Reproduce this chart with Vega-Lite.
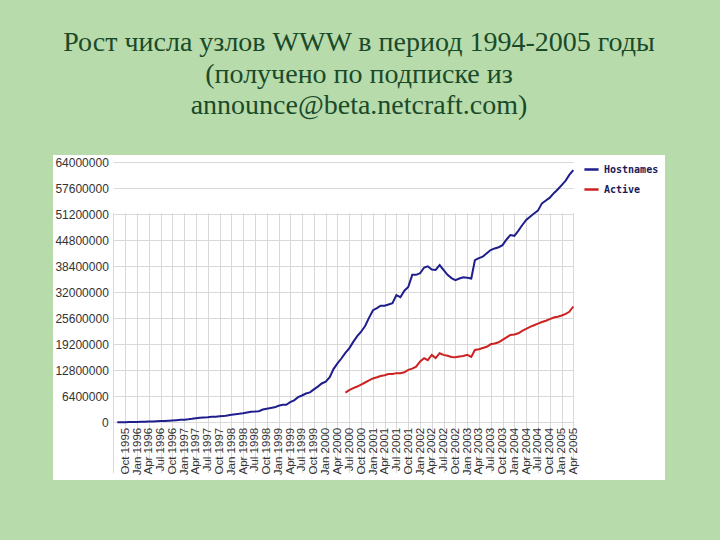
{
  "$schema": "https://vega.github.io/schema/vega-lite/v6.json",
  "width": 612,
  "height": 325,
  "autosize": {"type": "none"},
  "padding": {"left": 53, "top": 155, "right": 55, "bottom": 60},
  "background": "#b7dbab",
  "config": {
    "view": {"fill": "white", "stroke": null}
  },
  "title": {
    "text": ["Рост числа узлов WWW в период 1994-2005 годы", "(получено по подписке из", "announce@beta.netcraft.com)"],
    "font": "Liberation Serif",
    "fontSize": 28,
    "fontWeight": "normal",
    "lineHeight": 31.5,
    "color": "#1a4a29",
    "anchor": "middle",
    "frame": "group",
    "offset": 35
  },
  "data": {
    "values": [
      {"date": "1995-08-01", "series": "Hostnames", "value": 19000},
      {"date": "1995-09-01", "series": "Hostnames", "value": 22000},
      {"date": "1995-10-01", "series": "Hostnames", "value": 31000},
      {"date": "1995-11-01", "series": "Hostnames", "value": 49000},
      {"date": "1995-12-01", "series": "Hostnames", "value": 75000},
      {"date": "1996-01-01", "series": "Hostnames", "value": 100000},
      {"date": "1996-02-01", "series": "Hostnames", "value": 127000},
      {"date": "1996-03-01", "series": "Hostnames", "value": 160000},
      {"date": "1996-04-01", "series": "Hostnames", "value": 190000},
      {"date": "1996-05-01", "series": "Hostnames", "value": 215000},
      {"date": "1996-06-01", "series": "Hostnames", "value": 252000},
      {"date": "1996-07-01", "series": "Hostnames", "value": 299000},
      {"date": "1996-08-01", "series": "Hostnames", "value": 342000},
      {"date": "1996-09-01", "series": "Hostnames", "value": 397000},
      {"date": "1996-10-01", "series": "Hostnames", "value": 462000},
      {"date": "1996-11-01", "series": "Hostnames", "value": 525000},
      {"date": "1996-12-01", "series": "Hostnames", "value": 603000},
      {"date": "1997-01-01", "series": "Hostnames", "value": 650000},
      {"date": "1997-02-01", "series": "Hostnames", "value": 739000},
      {"date": "1997-03-01", "series": "Hostnames", "value": 850000},
      {"date": "1997-04-01", "series": "Hostnames", "value": 1002000},
      {"date": "1997-05-01", "series": "Hostnames", "value": 1114000},
      {"date": "1997-06-01", "series": "Hostnames", "value": 1203000},
      {"date": "1997-07-01", "series": "Hostnames", "value": 1269000},
      {"date": "1997-08-01", "series": "Hostnames", "value": 1389000},
      {"date": "1997-09-01", "series": "Hostnames", "value": 1364000},
      {"date": "1997-10-01", "series": "Hostnames", "value": 1467000},
      {"date": "1997-11-01", "series": "Hostnames", "value": 1523000},
      {"date": "1997-12-01", "series": "Hostnames", "value": 1681000},
      {"date": "1998-01-01", "series": "Hostnames", "value": 1834000},
      {"date": "1998-02-01", "series": "Hostnames", "value": 2000000},
      {"date": "1998-03-01", "series": "Hostnames", "value": 2084000},
      {"date": "1998-04-01", "series": "Hostnames", "value": 2215000},
      {"date": "1998-05-01", "series": "Hostnames", "value": 2410000},
      {"date": "1998-06-01", "series": "Hostnames", "value": 2594000},
      {"date": "1998-07-01", "series": "Hostnames", "value": 2636000},
      {"date": "1998-08-01", "series": "Hostnames", "value": 2743000},
      {"date": "1998-09-01", "series": "Hostnames", "value": 3156000},
      {"date": "1998-10-01", "series": "Hostnames", "value": 3358000},
      {"date": "1998-11-01", "series": "Hostnames", "value": 3518000},
      {"date": "1998-12-01", "series": "Hostnames", "value": 3689000},
      {"date": "1999-01-01", "series": "Hostnames", "value": 4062000},
      {"date": "1999-02-01", "series": "Hostnames", "value": 4302000},
      {"date": "1999-03-01", "series": "Hostnames", "value": 4301000},
      {"date": "1999-04-01", "series": "Hostnames", "value": 4955000},
      {"date": "1999-05-01", "series": "Hostnames", "value": 5398000},
      {"date": "1999-06-01", "series": "Hostnames", "value": 6177000},
      {"date": "1999-07-01", "series": "Hostnames", "value": 6598000},
      {"date": "1999-08-01", "series": "Hostnames", "value": 7078000},
      {"date": "1999-09-01", "series": "Hostnames", "value": 7370000},
      {"date": "1999-10-01", "series": "Hostnames", "value": 8101000},
      {"date": "1999-11-01", "series": "Hostnames", "value": 8781000},
      {"date": "1999-12-01", "series": "Hostnames", "value": 9560000},
      {"date": "2000-01-01", "series": "Hostnames", "value": 10000000},
      {"date": "2000-02-01", "series": "Hostnames", "value": 11100000},
      {"date": "2000-03-01", "series": "Hostnames", "value": 13100000},
      {"date": "2000-04-01", "series": "Hostnames", "value": 14500000},
      {"date": "2000-05-01", "series": "Hostnames", "value": 15700000},
      {"date": "2000-06-01", "series": "Hostnames", "value": 17100000},
      {"date": "2000-07-01", "series": "Hostnames", "value": 18200000},
      {"date": "2000-08-01", "series": "Hostnames", "value": 19800000},
      {"date": "2000-09-01", "series": "Hostnames", "value": 21200000},
      {"date": "2000-10-01", "series": "Hostnames", "value": 22300000},
      {"date": "2000-11-01", "series": "Hostnames", "value": 23700000},
      {"date": "2000-12-01", "series": "Hostnames", "value": 25700000},
      {"date": "2001-01-01", "series": "Hostnames", "value": 27600000},
      {"date": "2001-02-01", "series": "Hostnames", "value": 28100000},
      {"date": "2001-03-01", "series": "Hostnames", "value": 28700000},
      {"date": "2001-04-01", "series": "Hostnames", "value": 28700000},
      {"date": "2001-05-01", "series": "Hostnames", "value": 29000000},
      {"date": "2001-06-01", "series": "Hostnames", "value": 29300000},
      {"date": "2001-07-01", "series": "Hostnames", "value": 31300000},
      {"date": "2001-08-01", "series": "Hostnames", "value": 30800000},
      {"date": "2001-09-01", "series": "Hostnames", "value": 32400000},
      {"date": "2001-10-01", "series": "Hostnames", "value": 33300000},
      {"date": "2001-11-01", "series": "Hostnames", "value": 36300000},
      {"date": "2001-12-01", "series": "Hostnames", "value": 36300000},
      {"date": "2002-01-01", "series": "Hostnames", "value": 36700000},
      {"date": "2002-02-01", "series": "Hostnames", "value": 38100000},
      {"date": "2002-03-01", "series": "Hostnames", "value": 38400000},
      {"date": "2002-04-01", "series": "Hostnames", "value": 37600000},
      {"date": "2002-05-01", "series": "Hostnames", "value": 37500000},
      {"date": "2002-06-01", "series": "Hostnames", "value": 38700000},
      {"date": "2002-07-01", "series": "Hostnames", "value": 37500000},
      {"date": "2002-08-01", "series": "Hostnames", "value": 36300000},
      {"date": "2002-09-01", "series": "Hostnames", "value": 35500000},
      {"date": "2002-10-01", "series": "Hostnames", "value": 35000000},
      {"date": "2002-11-01", "series": "Hostnames", "value": 35400000},
      {"date": "2002-12-01", "series": "Hostnames", "value": 35700000},
      {"date": "2003-01-01", "series": "Hostnames", "value": 35600000},
      {"date": "2003-02-01", "series": "Hostnames", "value": 35400000},
      {"date": "2003-03-01", "series": "Hostnames", "value": 39900000},
      {"date": "2003-04-01", "series": "Hostnames", "value": 40400000},
      {"date": "2003-05-01", "series": "Hostnames", "value": 40800000},
      {"date": "2003-06-01", "series": "Hostnames", "value": 41600000},
      {"date": "2003-07-01", "series": "Hostnames", "value": 42400000},
      {"date": "2003-08-01", "series": "Hostnames", "value": 42800000},
      {"date": "2003-09-01", "series": "Hostnames", "value": 43100000},
      {"date": "2003-10-01", "series": "Hostnames", "value": 43600000},
      {"date": "2003-11-01", "series": "Hostnames", "value": 45000000},
      {"date": "2003-12-01", "series": "Hostnames", "value": 46100000},
      {"date": "2004-01-01", "series": "Hostnames", "value": 45900000},
      {"date": "2004-02-01", "series": "Hostnames", "value": 47200000},
      {"date": "2004-03-01", "series": "Hostnames", "value": 48500000},
      {"date": "2004-04-01", "series": "Hostnames", "value": 49800000},
      {"date": "2004-05-01", "series": "Hostnames", "value": 50600000},
      {"date": "2004-06-01", "series": "Hostnames", "value": 51400000},
      {"date": "2004-07-01", "series": "Hostnames", "value": 52100000},
      {"date": "2004-08-01", "series": "Hostnames", "value": 53900000},
      {"date": "2004-09-01", "series": "Hostnames", "value": 54600000},
      {"date": "2004-10-01", "series": "Hostnames", "value": 55300000},
      {"date": "2004-11-01", "series": "Hostnames", "value": 56400000},
      {"date": "2004-12-01", "series": "Hostnames", "value": 57300000},
      {"date": "2005-01-01", "series": "Hostnames", "value": 58400000},
      {"date": "2005-02-01", "series": "Hostnames", "value": 59500000},
      {"date": "2005-03-01", "series": "Hostnames", "value": 60900000},
      {"date": "2005-04-01", "series": "Hostnames", "value": 62100000},
      {"date": "2000-06-01", "series": "Active", "value": 7300000},
      {"date": "2000-07-01", "series": "Active", "value": 7900000},
      {"date": "2000-08-01", "series": "Active", "value": 8400000},
      {"date": "2000-09-01", "series": "Active", "value": 8800000},
      {"date": "2000-10-01", "series": "Active", "value": 9300000},
      {"date": "2000-11-01", "series": "Active", "value": 9800000},
      {"date": "2000-12-01", "series": "Active", "value": 10300000},
      {"date": "2001-01-01", "series": "Active", "value": 10800000},
      {"date": "2001-02-01", "series": "Active", "value": 11100000},
      {"date": "2001-03-01", "series": "Active", "value": 11400000},
      {"date": "2001-04-01", "series": "Active", "value": 11600000},
      {"date": "2001-05-01", "series": "Active", "value": 11900000},
      {"date": "2001-06-01", "series": "Active", "value": 11900000},
      {"date": "2001-07-01", "series": "Active", "value": 12100000},
      {"date": "2001-08-01", "series": "Active", "value": 12100000},
      {"date": "2001-09-01", "series": "Active", "value": 12300000},
      {"date": "2001-10-01", "series": "Active", "value": 12900000},
      {"date": "2001-11-01", "series": "Active", "value": 13200000},
      {"date": "2001-12-01", "series": "Active", "value": 13700000},
      {"date": "2002-01-01", "series": "Active", "value": 15000000},
      {"date": "2002-02-01", "series": "Active", "value": 15800000},
      {"date": "2002-03-01", "series": "Active", "value": 15300000},
      {"date": "2002-04-01", "series": "Active", "value": 16600000},
      {"date": "2002-05-01", "series": "Active", "value": 15800000},
      {"date": "2002-06-01", "series": "Active", "value": 17000000},
      {"date": "2002-07-01", "series": "Active", "value": 16600000},
      {"date": "2002-08-01", "series": "Active", "value": 16400000},
      {"date": "2002-09-01", "series": "Active", "value": 16100000},
      {"date": "2002-10-01", "series": "Active", "value": 16000000},
      {"date": "2002-11-01", "series": "Active", "value": 16200000},
      {"date": "2002-12-01", "series": "Active", "value": 16300000},
      {"date": "2003-01-01", "series": "Active", "value": 16600000},
      {"date": "2003-02-01", "series": "Active", "value": 16100000},
      {"date": "2003-03-01", "series": "Active", "value": 17800000},
      {"date": "2003-04-01", "series": "Active", "value": 18000000},
      {"date": "2003-05-01", "series": "Active", "value": 18300000},
      {"date": "2003-06-01", "series": "Active", "value": 18600000},
      {"date": "2003-07-01", "series": "Active", "value": 19200000},
      {"date": "2003-08-01", "series": "Active", "value": 19400000},
      {"date": "2003-09-01", "series": "Active", "value": 19700000},
      {"date": "2003-10-01", "series": "Active", "value": 20300000},
      {"date": "2003-11-01", "series": "Active", "value": 20900000},
      {"date": "2003-12-01", "series": "Active", "value": 21500000},
      {"date": "2004-01-01", "series": "Active", "value": 21600000},
      {"date": "2004-02-01", "series": "Active", "value": 21900000},
      {"date": "2004-03-01", "series": "Active", "value": 22500000},
      {"date": "2004-04-01", "series": "Active", "value": 23000000},
      {"date": "2004-05-01", "series": "Active", "value": 23500000},
      {"date": "2004-06-01", "series": "Active", "value": 23900000},
      {"date": "2004-07-01", "series": "Active", "value": 24300000},
      {"date": "2004-08-01", "series": "Active", "value": 24700000},
      {"date": "2004-09-01", "series": "Active", "value": 25000000},
      {"date": "2004-10-01", "series": "Active", "value": 25400000},
      {"date": "2004-11-01", "series": "Active", "value": 25800000},
      {"date": "2004-12-01", "series": "Active", "value": 26000000},
      {"date": "2005-01-01", "series": "Active", "value": 26300000},
      {"date": "2005-02-01", "series": "Active", "value": 26700000},
      {"date": "2005-03-01", "series": "Active", "value": 27200000},
      {"date": "2005-04-01", "series": "Active", "value": 28500000}
    ]
  },
  "mark": {"type": "line", "strokeWidth": 2},
  "encoding": {
    "x": {
      "field": "date",
      "type": "temporal",
      "scale": {
        "type": "utc",
        "domain": [{"year": 1995, "month": 7, "date": 1, "utc": true}, {"year": 2005, "month": 4, "date": 1, "utc": true}],
        "range": [60.3, 520.3],
        "nice": false
      },
      "axis": {
        "title": null,
        "tickCount": {"interval": "month", "step": 3},
        "format": "%b %Y",
        "labelExpr": "utcyear(datum.value) == 1995 && utcmonth(datum.value) == 6 ? '' : datum.label",
        "labelAngle": 270,
        "labelFont": "Liberation Sans",
        "labelFontSize": 11.5,
        "labelColor": "#333333",
        "labelPadding": 5,
        "labelOverlap": false,
        "labelFlush": false,
        "ticks": false,
        "domain": false,
        "grid": true,
        "gridColor": "#d9d9d9",
        "gridWidth": 1,
        "offset": -57.7
      }
    },
    "y": {
      "field": "value",
      "type": "quantitative",
      "scale": {"domain": [0, 64000000], "range": [267.3, 7.3], "nice": false, "zero": true},
      "axis": {
        "title": null,
        "values": [0, 6400000, 12800000, 19200000, 25600000, 32000000, 38400000, 44800000, 51200000, 57600000, 64000000],
        "format": "d",
        "labelFont": "Liberation Sans",
        "labelFontSize": 12,
        "labelColor": "#333333",
        "labelPadding": 5,
        "labelFlush": false,
        "labelOverlap": false,
        "ticks": false,
        "domain": false,
        "grid": true,
        "gridColor": "#d9d9d9",
        "gridWidth": 1,
        "offset": -60.3
      }
    },
    "color": {
      "field": "series",
      "type": "nominal",
      "scale": {"domain": ["Hostnames", "Active"], "range": ["#1e1e8c", "#cc2222"]},
      "legend": {
        "title": null,
        "orient": "none",
        "legendX": 530,
        "legendY": 6,
        "symbolType": "stroke",
        "symbolSize": 200,
        "symbolStrokeWidth": 2.5,
        "labelFont": "DejaVu Sans Mono",
        "labelFontSize": 10,
        "labelFontWeight": "bold",
        "labelColor": "#1a1a5a",
        "rowPadding": 6,
        "padding": 0
      }
    }
  }
}
